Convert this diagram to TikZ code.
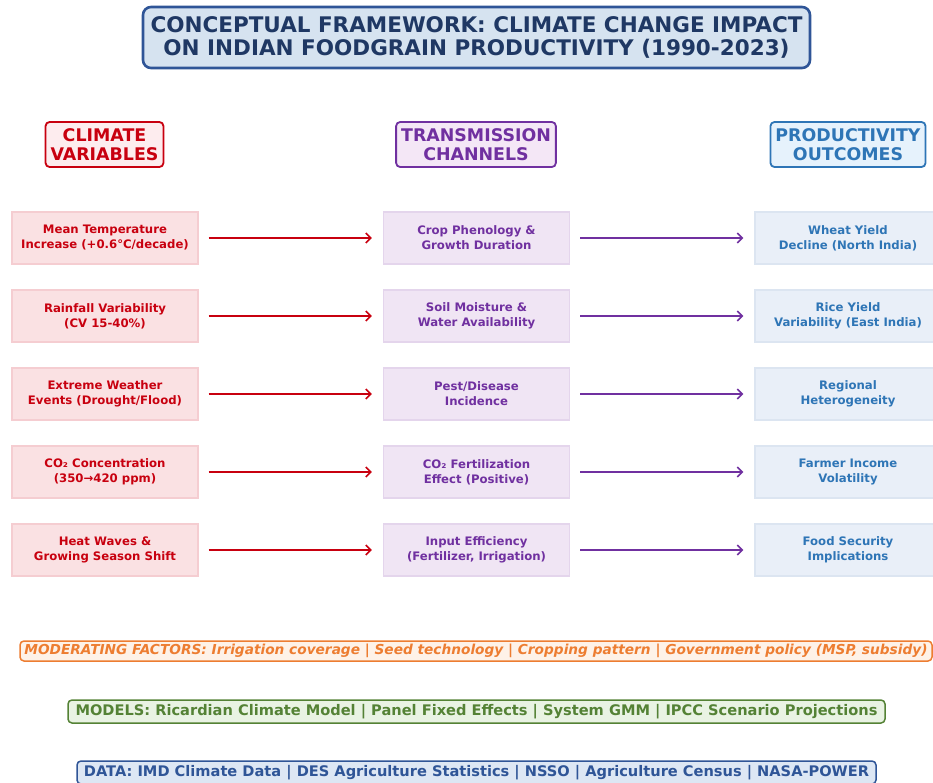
\documentclass[tikz,border=0pt]{standalone}
\usepackage{fontspec}
\setmainfont{DejaVu Sans}
\usetikzlibrary{arrows.meta}

% palette
\definecolor{titleborder}{HTML}{2F5597}
\definecolor{titlefill}{HTML}{D6E3F0}
\definecolor{titletext}{HTML}{1F3864}
\definecolor{climtext}{HTML}{C8000F}
\definecolor{climhead}{HTML}{FDECEE}
\definecolor{climfill}{HTML}{FAE1E3}
\definecolor{climline}{HTML}{F5CDD1}
\definecolor{chantext}{HTML}{7030A0}
\definecolor{chanhead}{HTML}{F4E7F6}
\definecolor{chanfill}{HTML}{F0E5F4}
\definecolor{chanline}{HTML}{E4D5EC}
\definecolor{outtext}{HTML}{2E75B6}
\definecolor{outhead}{HTML}{E6F2FC}
\definecolor{outfill}{HTML}{E9EFF8}
\definecolor{outline}{HTML}{DCE5F1}
\definecolor{modtext}{HTML}{ED7D31}
\definecolor{modfill}{HTML}{FEF2E8}
\definecolor{mdltext}{HTML}{548235}
\definecolor{mdlfill}{HTML}{E9F3E3}
\definecolor{datatext}{HTML}{2F5597}
\definecolor{datafill}{HTML}{DDE7F4}

\tikzset{
  titlebox/.style={draw=titleborder, line width=2.6pt, rounded corners=8pt,
    fill=titlefill, text=titletext, align=center, inner sep=0pt,
    minimum width=667pt, minimum height=61pt,
    font=\bfseries\fontsize{21.5}{23.5}\selectfont},
  headbox/.style={line width=1.8pt, rounded corners=4pt, align=center,
    inner xsep=5pt, inner ysep=0pt, minimum height=45pt,
    font=\bfseries\fontsize{17.4}{19.5}\selectfont},
  cellbox/.style={line width=1.2pt, align=center, inner sep=0pt,
    minimum width=186pt, minimum height=52pt,
    font=\bfseries\fontsize{11.7}{15}\selectfont},
  climcell/.style={cellbox, draw=climline, fill=climfill, text=climtext},
  chancell/.style={cellbox, draw=chanline, fill=chanfill, text=chantext},
  outcell/.style={cellbox, draw=outline, fill=outfill, text=outtext},
  bandbox/.style={line width=1.5pt, rounded corners=4pt, inner sep=0pt,
    font=\bfseries\fontsize{14.6}{16}\selectfont},
  link/.style={line width=1.6pt, -{Straight Barb[length=5pt,width=10pt,line width=1.6pt]},
    shorten <=10pt, shorten >=11pt},
}

\begin{document}
\begin{tikzpicture}[x=1pt, y=-1pt]
\useasboundingbox (0,0) rectangle (933,782);
\clip (0,0) rectangle (933,782);

% title
\node[titlebox] (title) at (476.5,37.5)
  {CONCEPTUAL FRAMEWORK: CLIMATE CHANGE IMPACT\\ON INDIAN FOODGRAIN PRODUCTIVITY (1990-2023)};

% column headers
\node[headbox, draw=climtext, fill=climhead, text=climtext] (hclim) at (104.5,144.5) {CLIMATE\\VARIABLES};
\node[headbox, draw=chantext, fill=chanhead, text=chantext] (hchan) at (476,144.5) {TRANSMISSION\\CHANNELS};
\node[headbox, draw=outtext, fill=outhead, text=outtext] (hout) at (848,144.5) {PRODUCTIVITY\\OUTCOMES};

% climate variables
\node[climcell] (c1) at (105,238) {Mean Temperature\\Increase (+0.6°C/decade)};
\node[climcell] (c2) at (105,316) {Rainfall Variability\\(CV 15-40\%)};
\node[climcell] (c3) at (105,394) {Extreme Weather\\Events (Drought/Flood)};
\node[climcell] (c4) at (105,472) {CO₂ Concentration\\(350→420 ppm)};
\node[climcell] (c5) at (105,550) {Heat Waves \&\\Growing Season Shift};

% transmission channels
\node[chancell] (t1) at (476.5,238) {Crop Phenology \&\\Growth Duration};
\node[chancell] (t2) at (476.5,316) {Soil Moisture \&\\Water Availability};
\node[chancell] (t3) at (476.5,394) {Pest/Disease\\Incidence};
\node[chancell] (t4) at (476.5,472) {CO₂ Fertilization\\Effect (Positive)};
\node[chancell] (t5) at (476.5,550) {Input Efficiency\\(Fertilizer, Irrigation)};

% productivity outcomes
\node[outcell] (o1) at (848,238) {Wheat Yield\\Decline (North India)};
\node[outcell] (o2) at (848,316) {Rice Yield\\Variability (East India)};
\node[outcell] (o3) at (848,394) {Regional\\Heterogeneity};
\node[outcell] (o4) at (848,472) {Farmer Income\\Volatility};
\node[outcell] (o5) at (848,550) {Food Security\\Implications};

% links
\foreach \i in {1,...,5} {
  \draw[link, draw=climtext] (c\i) -- (t\i);
  \draw[link, draw=chantext] (t\i) -- (o\i);
}

% bands
\node[bandbox, draw=modtext, fill=modfill, text=modtext, minimum width=912pt, minimum height=20pt,
  font=\bfseries\itshape\fontsize{13.7}{15}\selectfont] (mod) at (476,651)
  {MODERATING FACTORS: Irrigation coverage | Seed technology | Cropping pattern | Government policy (MSP, subsidy)};
\node[bandbox, draw=mdltext, fill=mdlfill, text=mdltext, minimum width=817pt, minimum height=23pt] (mdl) at (476.5,711.5)
  {MODELS: Ricardian Climate Model | Panel Fixed Effects | System GMM | IPCC Scenario Projections};
\node[bandbox, draw=datatext, fill=datafill, text=datatext, minimum width=799pt, minimum height=23pt] (data) at (476.5,772.5)
  {DATA: IMD Climate Data | DES Agriculture Statistics | NSSO | Agriculture Census | NASA-POWER};
\end{tikzpicture}
\end{document}
